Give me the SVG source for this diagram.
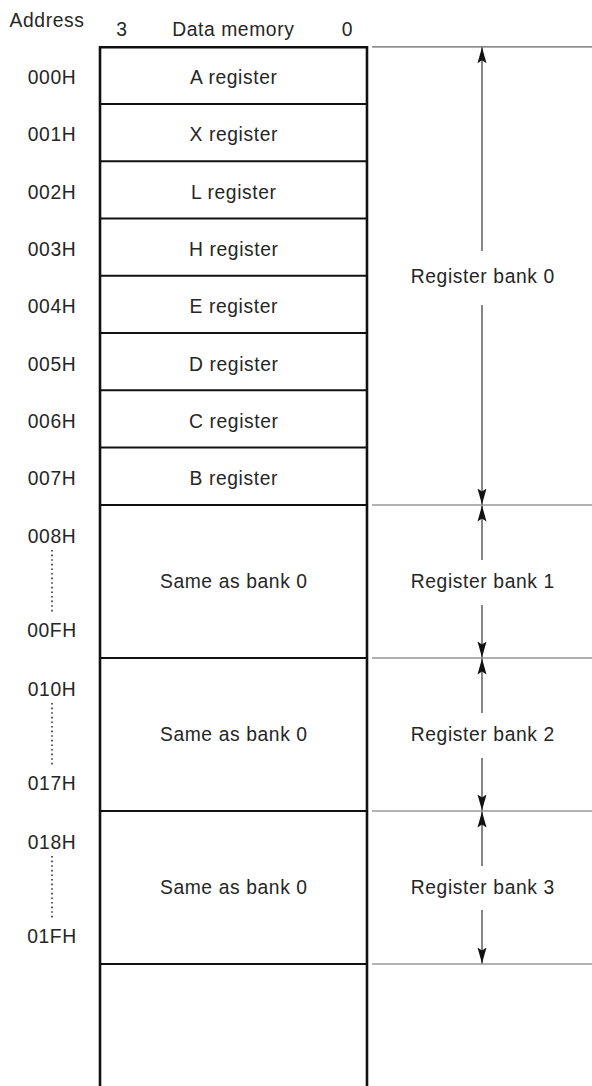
<svg xmlns="http://www.w3.org/2000/svg" width="592" height="1086" viewBox="0 0 592 1086">
<style>
text{font-family:"Liberation Sans",Arial,sans-serif;font-size:19.3px;fill:#262626;letter-spacing:0.6px}
.c{text-anchor:middle}
.div{stroke:#111;stroke-width:2;fill:none}
.frame{stroke:#111;stroke-width:2.6;fill:none}
.ext{stroke:#666;stroke-width:1.2}
.arr{stroke:#222;stroke-width:1.1;fill:none;marker-end:url(#ah)}
.dots{stroke:#333;stroke-width:1.6;stroke-dasharray:1.6 3}
</style>
<defs>
<marker id="ah" viewBox="0 0 16 10" refX="16" refY="5" markerWidth="16" markerHeight="10" markerUnits="userSpaceOnUse" orient="auto">
<path d="M0,0.5 L16,5 L0,9.5 L3,5 Z" fill="#111"/>
</marker>
</defs>
<rect width="592" height="1086" fill="#fff"/>
<g id="header">
<text x="47" y="26.7" class="c">Address</text>
<text x="122" y="36" class="c">3</text>
<text x="233.3" y="36" class="c">Data memory</text>
<text x="347.3" y="36" class="c">0</text>
</g>
<g id="memory-frame">
<path class="frame" d="M100,1090 V47.3 H367 V1090"/>
</g>
<g id="row-000H"><text x="52" y="84" class="c">000H</text><text x="233.8" y="84" class="c">A register</text><line class="div" x1="100" y1="104" x2="367" y2="104"/></g>
<g id="row-001H"><text x="52" y="141.3" class="c">001H</text><text x="233.8" y="141.3" class="c">X register</text><line class="div" x1="100" y1="161.2" x2="367" y2="161.2"/></g>
<g id="row-002H"><text x="52" y="198.6" class="c">002H</text><text x="233.8" y="198.6" class="c">L register</text><line class="div" x1="100" y1="218.5" x2="367" y2="218.5"/></g>
<g id="row-003H"><text x="52" y="255.9" class="c">003H</text><text x="233.8" y="255.9" class="c">H register</text><line class="div" x1="100" y1="275.8" x2="367" y2="275.8"/></g>
<g id="row-004H"><text x="52" y="313.2" class="c">004H</text><text x="233.8" y="313.2" class="c">E register</text><line class="div" x1="100" y1="333" x2="367" y2="333"/></g>
<g id="row-005H"><text x="52" y="370.5" class="c">005H</text><text x="233.8" y="370.5" class="c">D register</text><line class="div" x1="100" y1="390.3" x2="367" y2="390.3"/></g>
<g id="row-006H"><text x="52" y="427.8" class="c">006H</text><text x="233.8" y="427.8" class="c">C register</text><line class="div" x1="100" y1="447.5" x2="367" y2="447.5"/></g>
<g id="row-007H"><text x="52" y="485" class="c">007H</text><text x="233.8" y="485" class="c">B register</text><line class="div" x1="100" y1="505" x2="367" y2="505"/></g>
<g id="bank1-block"><text x="52" y="542.7" class="c">008H</text><line class="dots" x1="52" y1="550" x2="52" y2="613"/><text x="52" y="637.3" class="c">00FH</text><text x="233.8" y="588.3" class="c">Same as bank 0</text><line class="div" x1="100" y1="658" x2="367" y2="658"/></g>
<g id="bank2-block"><text x="52" y="695.7" class="c">010H</text><line class="dots" x1="52" y1="703" x2="52" y2="766"/><text x="52" y="790.3" class="c">017H</text><text x="233.8" y="741.3" class="c">Same as bank 0</text><line class="div" x1="100" y1="811" x2="367" y2="811"/></g>
<g id="bank3-block"><text x="52" y="848.7" class="c">018H</text><line class="dots" x1="52" y1="856" x2="52" y2="919"/><text x="52" y="943.3" class="c">01FH</text><text x="233.8" y="894.3" class="c">Same as bank 0</text><line class="div" x1="100" y1="964" x2="367" y2="964"/></g>
<g id="bank-labels">
<text x="482.8" y="283.3" class="c">Register bank 0</text>
<text x="482.8" y="588.3" class="c">Register bank 1</text>
<text x="482.8" y="741.3" class="c">Register bank 2</text>
<text x="482.8" y="894.3" class="c">Register bank 3</text>
</g>
<g id="connectors">
<line class="ext" x1="372" y1="46.8" x2="592" y2="46.8"/>
<line class="ext" x1="372" y1="505" x2="592" y2="505"/>
<line class="ext" x1="372" y1="658" x2="592" y2="658"/>
<line class="ext" x1="372" y1="811" x2="592" y2="811"/>
<line class="ext" x1="372" y1="964" x2="592" y2="964"/>
<line class="arr" x1="482" y1="251" x2="482" y2="47.3"/>
<line class="arr" x1="482" y1="305" x2="482" y2="504.5"/>
<line class="arr" x1="482" y1="560" x2="482" y2="505.5"/>
<line class="arr" x1="482" y1="605" x2="482" y2="657.5"/>
<line class="arr" x1="482" y1="713" x2="482" y2="658.5"/>
<line class="arr" x1="482" y1="758" x2="482" y2="810.5"/>
<line class="arr" x1="482" y1="866" x2="482" y2="811.5"/>
<line class="arr" x1="482" y1="910" x2="482" y2="963.5"/>
</g>
</svg>
